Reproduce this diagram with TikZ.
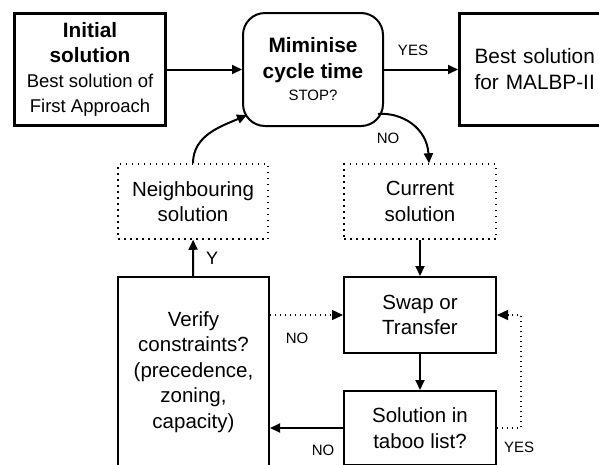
\documentclass[tikz,border=0pt]{standalone}
\usepackage{fontspec}
\setmainfont{Liberation Sans}
\usetikzlibrary{arrows.meta,calc}
\begin{document}
\begin{tikzpicture}[x=1pt,y=-1pt,
  box/.style={draw, line width=2pt, align=center, inner sep=0pt,
    font=\fontsize{20.5}{25.5}\selectfont},
  heavybox/.style={box, line width=3.2pt},
  dotbox/.style={box, line width=1.5pt, dash pattern=on 1.5pt off 4.5pt},
  flow/.style={line width=2pt, -{Triangle[length=10pt,width=9pt]}},
  dotflow/.style={line width=1.4pt, dash pattern=on 1.4pt off 3.6pt,
    -{Triangle[length=11pt,width=10pt]}},
  tag/.style={inner sep=0pt, font=\fontsize{15}{18}\selectfont},
]
\useasboundingbox (0,0) rectangle (599,464);
\clip (0,0) rectangle (599,464);

% top row
\node[heavybox, minimum width=151pt, minimum height=112pt] (init) at (90,69.5)
  {\fontsize{20.8}{25}\selectfont\bfseries Initial\\
   \fontsize{20.8}{25}\selectfont\bfseries solution\\[-1pt]
   \fontsize{18.5}{21}\selectfont Best solution of\\
   \fontsize{18.5}{21}\selectfont First Approach};
\node[box, rounded corners=22pt, minimum width=140pt, minimum height=113pt] (mini) at (313,69.5)
  {\fontsize{20.8}{25.5}\selectfont\bfseries Miminise\\
   \fontsize{20.8}{25.5}\selectfont\bfseries cycle time\\[-3pt]
   \fontsize{15}{18}\selectfont STOP?};
\node[heavybox, anchor=west, text width=125pt, align=left, inner xsep=15pt,
  minimum height=112pt, font=\fontsize{20.8}{26}\selectfont] (best) at (458,69.5)
  {Best solution\\for MALBP-II};

% middle row
\node[dotbox, minimum width=150pt, minimum height=75pt] (neigh) at (193,201.5)
  {Neighbouring\\solution};
\node[dotbox, minimum width=152pt, minimum height=75pt] (current) at (420,201.5)
  {Current\\solution};

% lower part
\node[box, minimum width=152pt, minimum height=76pt] (swap) at (420,315)
  {Swap or\\Transfer};
\node[box, minimum width=152pt, minimum height=74pt] (taboo) at (420,428)
  {Solution in\\taboo list?};
\node[box, minimum width=151pt, minimum height=190pt] (verify) at (193.5,372)
  {Verify\\constraints?\\(precedence,\\zoning,\\capacity)};

% connector end points
\coordinate (backin) at (247,115);
\coordinate (noout) at (378,114);
\coordinate (noin) at ($(current.north)+(9,0)$);
\coordinate (loopx) at (521,0);

% connectors
\draw[flow] (init) -- (mini);
\draw[flow] (mini) -- (best);
\draw[flow] (neigh.north) .. controls (193,135) and (222,126) .. (backin);
\draw[flow] (noout) .. controls (402,112) and (427,128) .. (noin);
\draw[flow] (current) -- (swap);
\draw[flow] (swap) -- (taboo);
\draw[flow] (verify) -- (neigh);
\draw[flow] (taboo.west) -- (taboo.west -| verify.east);
\draw[dotflow] (verify.east |- swap.west) -- (swap.west);
\draw[dotflow] (taboo.east) -- (loopx |- taboo.east) -- (loopx |- swap.east) -- (swap.east);

% branch labels
\node[tag] (yes1) at (413,50) {YES};
\node[tag] (no1) at (388,138) {NO};
\node[tag, font=\fontsize{18}{20}\selectfont] (yy) at (212,258) {Y};
\node[tag] (no2) at (297,338) {NO};
\node[tag] (no3) at (323,450) {NO};
\node[tag] (yes2) at (519,447) {YES};
\end{tikzpicture}
\end{document}
